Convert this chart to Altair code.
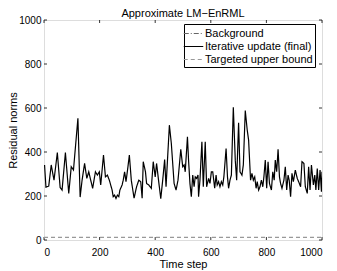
import altair as alt
import pandas as pd

# Time steps and residual norms of the final iterative update
t_upd_a = [2, 7, 17, 26, 36, 48, 58, 65, 77, 89, 98, 106, 122, 130, 137, 146, 154, 161, 168, 175,
           185, 192, 199, 204, 214, 221, 228, 235, 245]
v_upd_a = [341, 240, 245, 341, 272, 397, 239, 227, 397, 212, 333, 318, 553, 195, 272, 348, 280,
           310, 272, 235, 310, 295, 310, 250, 386, 287, 295, 272, 227]
t_upd_b = [249, 254, 259, 264, 269, 273, 281, 285, 290, 295, 302, 307, 314, 324, 333, 341, 348,
           353, 357, 365, 369, 377, 386, 393, 400, 405, 412, 420, 427, 434, 439, 451, 458, 468,
           475, 482, 492, 499]
v_upd_b = [197, 204, 189, 204, 197, 227, 250, 272, 310, 265, 333, 386, 272, 190, 242, 272, 265,
           190, 356, 310, 257, 250, 235, 356, 287, 348, 272, 188, 272, 366, 242, 522, 439, 257,
           227, 272, 412, 333]
t_upd_c = [504, 508, 516, 520, 525, 530, 535, 540, 544, 549, 554, 556, 561, 568, 573, 580, 585,
           592, 597, 602, 607, 614, 619, 623, 628, 633, 638, 643, 647, 655, 660, 664, 669, 674,
           681, 688, 693, 700, 705, 712, 717, 724, 731, 736, 743]
v_upd_c = [341, 310, 469, 363, 257, 197, 295, 242, 287, 280, 295, 197, 272, 447, 242, 447, 242,
           280, 257, 310, 310, 235, 295, 250, 265, 242, 265, 250, 287, 416, 287, 235, 272, 295,
           603, 363, 272, 533, 310, 295, 341, 588, 500, 454, 272]
t_upd_d = [748, 753, 758, 763, 767, 772, 777, 782, 787, 791, 796, 801, 806, 811, 818, 823, 828,
           832, 837, 842, 847, 851, 856, 863, 868, 873, 878, 882, 887, 892, 897, 904, 911, 916,
           923, 928, 935, 940, 947, 952, 957, 962, 969, 974, 978, 983, 988, 993, 998, 1000]
v_upd_d = [303, 272, 287, 235, 265, 227, 242, 272, 242, 287, 363, 235, 356, 257, 227, 310, 272,
           363, 310, 412, 287, 257, 235, 272, 333, 227, 295, 272, 197, 303, 265, 318, 280, 265,
           242, 356, 348, 242, 212, 333, 227, 341, 250, 295, 227, 325, 227, 318, 219, 310]
t_target = [0, 1000]
v_target = [12, 12]

series_names = ["Background", "Iterative update (final)", "Targeted upper bound"]
series_colors = ["#666666", "#000000", "#999999"]
series_dashes = [[5, 2, 1, 2], [1, 0], [4, 3]]

x_ticks = [0, 200, 400, 600, 800, 1000]
y_ticks = [0, 200, 400, 600, 800, 1000]

t_upd = t_upd_a + t_upd_b + t_upd_c + t_upd_d
v_upd = v_upd_a + v_upd_b + v_upd_c + v_upd_d

df = pd.concat([
    pd.DataFrame({"t": t_upd, "v": v_upd, "series": series_names[1]}),
    pd.DataFrame({"t": t_target, "v": v_target, "series": series_names[2]}),
])

W, H = 278, 220
FONT = "Liberation Sans"

xs = alt.Scale(domain=[0, 1000], nice=False)
ys = alt.Scale(domain=[0, 1000], nice=False)

legend_kw = dict(title=None, orient="none", legendX=140, legendY=4,
                 symbolType="M-1.5,0H1.5", symbolSize=169, symbolStrokeWidth=1.2,
                 labelFontSize=11, labelFont=FONT, labelColor="black", rowPadding=0,
                 padding=2, labelOffset=4, strokeColor="#000000", fillColor="white",
                 symbolFillColor="transparent", cornerRadius=0, offset=0)

ax_common = dict(ticks=False, domain=False, grid=False, format="d",
                 titleFontWeight="normal", titleFont=FONT, labelFont=FONT,
                 titleFontSize=11, labelFontSize=10, labelColor="black", titleColor="black")

lines = alt.Chart(df).mark_line(strokeWidth=1.2, clip=True).encode(
    x=alt.X("t:Q", scale=xs, title="Time step",
            axis=alt.Axis(values=x_ticks, labelPadding=7, titlePadding=1, **ax_common)),
    y=alt.Y("v:Q", scale=ys, title="Residual norms",
            axis=alt.Axis(values=y_ticks, labelPadding=3, titlePadding=0, **ax_common)),
    color=alt.Color("series:N",
                    scale=alt.Scale(domain=series_names, range=series_colors),
                    legend=alt.Legend(**legend_kw)),
    strokeDash=alt.StrokeDash("series:N",
                              scale=alt.Scale(domain=series_names, range=series_dashes),
                              legend=alt.Legend(**legend_kw)),
)

xt = pd.DataFrame({"t": x_ticks})
yt = pd.DataFrame({"v": y_ticks})
tick_style = dict(color="black", strokeWidth=0.8)
xb = alt.Chart(xt).mark_rule(**tick_style).encode(x=alt.X("t:Q", scale=xs), y=alt.value(H), y2=alt.value(H - 3))
xtp = alt.Chart(xt).mark_rule(**tick_style).encode(x=alt.X("t:Q", scale=xs), y=alt.value(0), y2=alt.value(3))
yl = alt.Chart(yt).mark_rule(**tick_style).encode(y=alt.Y("v:Q", scale=ys), x=alt.value(0), x2=alt.value(3))
yr = alt.Chart(yt).mark_rule(**tick_style).encode(y=alt.Y("v:Q", scale=ys), x=alt.value(W), x2=alt.value(W - 3))

chart = alt.layer(xb, xtp, yl, yr, lines).properties(
    width=W, height=H,
    title=alt.Title("Approximate LM\u2212EnRML", fontSize=11, fontWeight="normal", font=FONT,
                    offset=-4, color="black"),
    autosize=alt.AutoSizeParams(type="none"),
    padding={"left": 36, "top": 12, "right": 7, "bottom": 31},
).configure_view(stroke="black", strokeWidth=1).configure(background="white")

chart.save("out.html", embed_options={"renderer": "svg", "actions": False})
